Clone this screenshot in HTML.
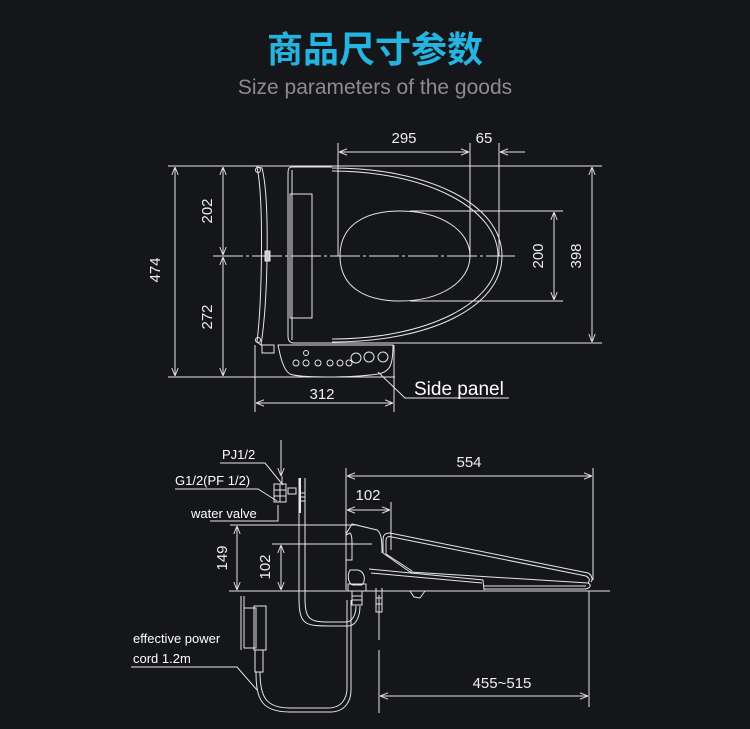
<!DOCTYPE html>
<html><head><meta charset="utf-8"><style>
html,body{margin:0;padding:0;background:#15161a;}
svg{display:block}
text{font-family:"Liberation Sans",sans-serif;fill:#fff}
.d{font-family:"Liberation Sans",sans-serif;font-size:15px;fill:#eee}
</style></head><body>
<svg width="750" height="729" viewBox="0 0 750 729" xmlns="http://www.w3.org/2000/svg">
<defs>
<marker id="a" viewBox="0 0 10 10" refX="10" refY="5" markerWidth="8" markerHeight="8" orient="auto-start-reverse" markerUnits="userSpaceOnUse"><path d="M0,1 L10,5 L0,9" fill="none" stroke="#ddd" stroke-width="1.2"/></marker>
</defs>
<rect width="750" height="729" fill="#15161a"/>
<text x="375" y="62" text-anchor="middle" style="font-family:'Liberation Sans','Noto Sans CJK SC',sans-serif;font-size:36px;font-weight:bold;fill:#25b4e0">商品尺寸参数</text>
<text x="375" y="94" text-anchor="middle" style="font-size:21px;fill:#8c8c8c">Size parameters of the goods</text>

<g stroke="#e6e6e6" stroke-width="1" fill="none">
<line x1="168" y1="166" x2="602" y2="166"/>
<line x1="168" y1="377" x2="395" y2="377"/>
<line x1="332" y1="343" x2="602" y2="343"/>
<line x1="213" y1="256" x2="515" y2="256" stroke-dasharray="30,3,3,3"/>
<line x1="338" y1="143" x2="338" y2="256"/>
<line x1="470" y1="143" x2="470" y2="256"/>
<line x1="499" y1="143" x2="499" y2="256"/>
<line x1="410" y1="211" x2="563" y2="211"/>
<line x1="410" y1="301" x2="563" y2="301"/>
<line x1="255" y1="345" x2="255" y2="412"/>
<line x1="394" y1="345" x2="394" y2="412"/>
<line x1="175" y1="167" x2="175" y2="376" marker-start="url(#a)" marker-end="url(#a)"/>
<line x1="223" y1="167" x2="223" y2="255" marker-start="url(#a)" marker-end="url(#a)"/>
<line x1="223" y1="257" x2="223" y2="376" marker-start="url(#a)" marker-end="url(#a)"/>
<line x1="339" y1="152" x2="469" y2="152" marker-start="url(#a)" marker-end="url(#a)"/>
<line x1="525" y1="152" x2="500" y2="152" marker-end="url(#a)"/>
<line x1="554" y1="212" x2="554" y2="300" marker-start="url(#a)" marker-end="url(#a)"/>
<line x1="592" y1="167" x2="592" y2="342" marker-start="url(#a)" marker-end="url(#a)"/>
<line x1="256" y1="403" x2="393" y2="403" marker-start="url(#a)" marker-end="url(#a)"/>
<path d="M257,167 C264,200 262,300 257,342 L261,345 C268,300 270,200 262,168 Z"/>
<circle cx="258" cy="170" r="2.5"/><circle cx="258" cy="340" r="2.5"/>
<rect x="265" y="251" width="5" height="10" fill="#ccc"/>
<path d="M292,167 L332,167 M292,167 C288,167 288,170 288,175 L288,336 C288,341 290,343 294,343 L332,343"/>
<path d="M292,170 L292,340"/>
<rect x="290" y="194" width="22" height="124"/>
<path d="M332,168 C430,168 502,205 502,256 C502,307 430,342 332,342"/>
<path d="M332,171 C425,171 498,208 498,256 C498,304 425,339 332,339"/>
<path d="M340,256 C340,225 365,211 400,211 C440,211 470,230 470,256 C470,282 440,301 400,301 C365,301 340,287 340,256 Z"/>
<path d="M278,345 L393,345 C393,365 390,372 378,374 C350,378 300,378 290,374 C283,370 280,355 278,345 Z"/>
<rect x="262" y="345" width="12" height="8"/>
<circle cx="306" cy="353" r="2.5"/>
<circle cx="296" cy="363" r="3"/><circle cx="306" cy="363" r="3"/><circle cx="318" cy="363" r="3"/><circle cx="330" cy="363" r="3"/><circle cx="340" cy="363" r="3"/><circle cx="349" cy="363" r="3"/>
<circle cx="356" cy="358" r="5"/><circle cx="369" cy="357" r="5"/><circle cx="383" cy="357" r="5"/>
<path d="M378,372 L405,398 L509,398"/>

<!-- side view -->
<line x1="346" y1="468" x2="346" y2="590"/>
<line x1="593" y1="468" x2="593" y2="580"/>
<line x1="391" y1="502" x2="391" y2="550"/>
<line x1="229" y1="591" x2="610" y2="591"/>
<line x1="230" y1="525" x2="358" y2="525"/>
<line x1="272" y1="544" x2="372" y2="544"/>
<line x1="379" y1="595" x2="379" y2="640"/>
<line x1="379" y1="650" x2="379" y2="713"/>
<line x1="589" y1="591" x2="589" y2="707"/>
<line x1="347" y1="476" x2="592" y2="476" marker-start="url(#a)" marker-end="url(#a)"/>
<line x1="347" y1="510" x2="390" y2="510" marker-start="url(#a)" marker-end="url(#a)"/>
<line x1="237" y1="526" x2="237" y2="590" marker-start="url(#a)" marker-end="url(#a)"/>
<line x1="281" y1="545" x2="281" y2="590" marker-start="url(#a)" marker-end="url(#a)"/>
<line x1="380" y1="696" x2="588" y2="696" marker-start="url(#a)" marker-end="url(#a)"/>
<line x1="281" y1="440" x2="281" y2="476" marker-end="url(#a)"/>
<!-- tank profile -->
<path d="M346,534 L352,524 L377,530 C381,533 382,538 382,553"/>
<path d="M346,535 L350,533 C352,535 352,540 352,545 L352,560 L346,560"/>
<!-- lid -->
<path d="M383,553 L383,540 C383,534 386,533 390,533 L588,573 C592,575 593,580 591,582"/>
<path d="M386,554 L386,541 C386,537 388,536 392,537 L586,576 C590,578 590,581 588,583"/>
<path d="M383,553 L410,572 M386,554 L412,571"/>
<!-- seat -->
<path d="M369,569 L483,580 L484,590"/>
<path d="M371,573 L482,583"/>
<path d="M410,572 L588,583 C592,585 590,588 586,589 L484,589"/>
<path d="M484,586 L586,586"/>
<path d="M410,591 L414,597 L420,598 L425,591"/>
<!-- fitting -->
<path d="M350,570 C347,575 348,584 353,585 L362,585 C366,580 365,572 358,570 Z"/>
<rect x="348" y="584" width="18" height="7"/>
<path d="M352,591 L352,605 L362,605 L362,591 M352,596 L362,596 M352,600 L362,600"/>
<path d="M376,588 L376,612 L382,612 L382,588 M376,598 L382,598 M376,604 L382,604"/>
<!-- hose -->
<path d="M299,478 L299,598 C299,625 305,626 330,626 L348,626 C355,626 360,618 360,606"/>
<path d="M305,478 L305,598 C305,620 310,622 330,622 L346,622 C352,622 356,615 356,606"/>
<path d="M299,493 L305,493 M299,497 L305,497 M299,501 L305,501"/>
<line x1="300" y1="478" x2="300" y2="513" stroke-width="2"/>
<rect x="274" y="484" width="12" height="18"/>
<path d="M274,490 L286,490 M274,496 L286,496 M280,484 L280,502"/>
<rect x="288" y="488" width="8" height="6"/>
<line x1="282" y1="476" x2="282" y2="484"/>
<path d="M241,596 L241,650 M244,596 L244,648"/>
<rect x="244" y="608" width="12" height="40"/>
<rect x="254" y="606" width="12" height="44"/>
<rect x="255" y="650" width="8" height="22"/>
<path d="M256,672 C256,700 262,712 290,712 L330,712 C346,712 351,700 351,690 L351,600"/>
<path d="M260,672 C260,697 266,708 290,708 L328,708 C342,708 347,698 347,688 L347,600"/>
<path d="M220,463 L265,463 L283,485"/>
<path d="M175,489 L258,489 L277,501"/>
<path d="M210,521 L278,521 L278,505"/>
<path d="M131,667 L237,667 L257,690"/>
</g>

<g class="d">
<text x="160" y="270" transform="rotate(-90 160 270)" text-anchor="middle" class="d">474</text>
<text x="212" y="211" transform="rotate(-90 212 211)" text-anchor="middle" class="d">202</text>
<text x="212" y="317" transform="rotate(-90 212 317)" text-anchor="middle" class="d">272</text>
<text x="404" y="143" text-anchor="middle" class="d">295</text>
<text x="484" y="143" text-anchor="middle" class="d">65</text>
<text x="543" y="256" transform="rotate(-90 543 256)" text-anchor="middle" class="d">200</text>
<text x="581" y="256" transform="rotate(-90 581 256)" text-anchor="middle" class="d">398</text>
<text x="322" y="399" text-anchor="middle" class="d">312</text>
<text x="469" y="467" text-anchor="middle" class="d">554</text>
<text x="368" y="500" text-anchor="middle" class="d">102</text>
<text x="227" y="558" transform="rotate(-90 227 558)" text-anchor="middle" class="d">149</text>
<text x="270" y="567" transform="rotate(-90 270 567)" text-anchor="middle" class="d">102</text>
<text x="502" y="688" text-anchor="middle" class="d">455~515</text>
</g>
<text x="414" y="395" style="font-size:19px">Side panel</text>
<text x="222" y="459" style="font-size:13px">PJ1/2</text>
<text x="175" y="485" style="font-size:13px">G1/2(PF 1/2)</text>
<text x="191" y="518" style="font-size:13px">water valve</text>
<text x="133" y="643" style="font-size:13px">effective power</text>
<text x="133" y="663" style="font-size:13px">cord 1.2m</text>
</svg>
</body></html>
